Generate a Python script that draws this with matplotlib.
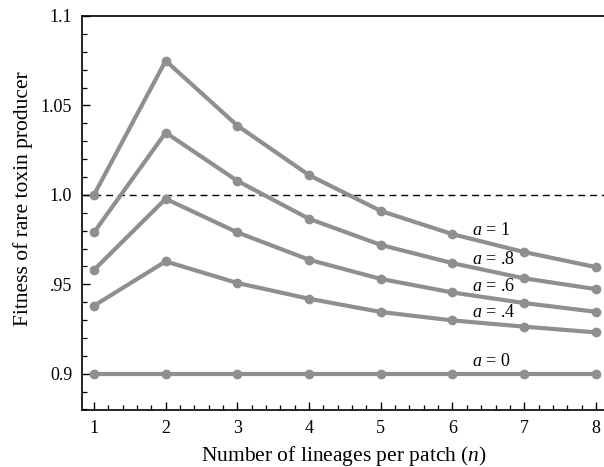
import matplotlib
matplotlib.use('Agg')
import matplotlib.pyplot as plt
from matplotlib.ticker import MultipleLocator, FixedLocator

plt.rcParams['font.family'] = ['Liberation Serif', 'DejaVu Serif']
plt.rcParams['mathtext.fontset'] = 'custom'
plt.rcParams['mathtext.it'] = 'Liberation Serif:italic'
plt.rcParams['mathtext.rm'] = 'Liberation Serif'

# lineages per patch
n = [1, 2, 3, 4, 5, 6, 7, 8]

# fitness for each value of a
fit_a1 = [1.000, 1.075, 1.0387, 1.011, 0.991, 0.978, 0.968, 0.9596]
fit_a08 = [0.979, 1.0348, 1.0078, 0.9866, 0.972, 0.9618, 0.9533, 0.9473]
fit_a06 = [0.958, 0.9978, 0.979, 0.9637, 0.953, 0.9454, 0.9395, 0.9346]
fit_a04 = [0.938, 0.9628, 0.9507, 0.9419, 0.9345, 0.9298, 0.9263, 0.9231]
fit_a0 = [0.9, 0.9, 0.9, 0.9, 0.9, 0.9, 0.9, 0.9]

series = [fit_a1, fit_a08, fit_a06, fit_a04, fit_a0]
labels = ['1', '.8', '.6', '.4', '0']
label_y = [0.9803, 0.9638, 0.9485, 0.934, 0.9066]

y_ticks = [0.9, 0.95, 1.0, 1.05, 1.1]
y_ticklabels = ['0.9', '.95', '1.0', '1.05', '1.1']

fig = plt.figure(figsize=(6.04, 4.67), dpi=100)
ax = fig.add_axes([82 / 604, 57 / 467, 522 / 604, 394 / 467])

gray = '#8f8f8f'
ax.axhline(1.0, color='black', lw=1.0, dashes=(5, 3.5), zorder=1)
for ys in series:
    ax.plot(n, ys, color=gray, lw=3.0, marker='o', ms=6,
            solid_capstyle='round', zorder=2)

for lab, yy in zip(labels, label_y):
    ax.text(6.27, yy, r'$a$ = ' + lab, fontsize=13, va='center', ha='left')

ax.set_xlim(0.833, 8.113)
ax.set_ylim(0.8797, 1.1)

ax.xaxis.set_major_locator(FixedLocator(n))
ax.xaxis.set_minor_locator(MultipleLocator(0.2))
ax.yaxis.set_major_locator(FixedLocator(y_ticks))
ax.set_yticklabels(y_ticklabels)
ax.yaxis.set_minor_locator(MultipleLocator(0.01))

ax.tick_params(which='both', direction='in', labelsize=13)
ax.tick_params(which='major', length=6, width=1, pad=7)
ax.tick_params(which='minor', length=3.5, width=0.9)
ax.tick_params(top=False, right=False, which='both')

ax.spines['right'].set_visible(False)
for s in ['top', 'left', 'bottom']:
    ax.spines[s].set_linewidth(1.2)

ax.set_xlabel(r'Number of lineages per patch ($n$)', fontsize=15.5)
ax.set_ylabel('Fitness of rare toxin producer', fontsize=15.5)
ax.xaxis.set_label_coords(0.5 + (344 - 343) / 522, -0.086)
ax.yaxis.set_label_coords(-0.094, (410 - 199) / 394)

fig.savefig('out.png', dpi=100)
